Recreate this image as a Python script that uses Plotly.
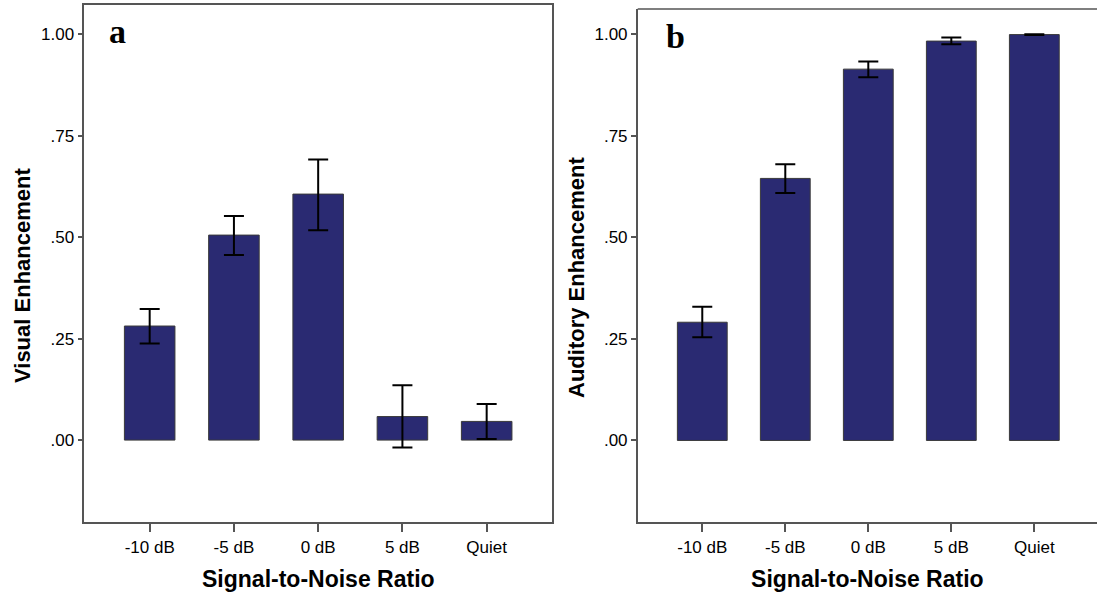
import plotly.graph_objects as go

categories = ["-10 dB", "-5 dB", "0 dB", "5 dB", "Quiet"]

# Panel a: Visual Enhancement (mean, upper and lower CI bounds)
visual_mean = [0.281, 0.505, 0.606, 0.058, 0.046]
visual_hi = [0.323, 0.552, 0.691, 0.135, 0.089]
visual_lo = [0.238, 0.456, 0.517, -0.018, 0.003]

# Panel b: Auditory Enhancement
aud_mean = [0.291, 0.645, 0.914, 0.983, 0.999]
aud_hi = [0.329, 0.680, 0.933, 0.992, 1.000]
aud_lo = [0.254, 0.609, 0.894, 0.975, 0.998]

ytick_vals = [0.0, 0.25, 0.5, 0.75, 1.0]
ytick_text = [".00", ".25", ".50", ".75", "1.00"]

W, H = 1097, 596
BAR = "#2a2a72"
FRAME = "#555555"
SANS = "Liberation Sans, Arial, sans-serif"
SERIF = "Liberation Serif, Times New Roman, serif"


def err(mean, hi, lo):
    return [h - m for h, m in zip(hi, mean)], [m - l for m, l in zip(mean, lo)]


fig = go.Figure()
for i, (mean, hi, lo) in enumerate([(visual_mean, visual_hi, visual_lo),
                                     (aud_mean, aud_hi, aud_lo)]):
    up, dn = err(mean, hi, lo)
    fig.add_trace(go.Bar(
        x=list(range(len(categories))), y=mean,
        xaxis="x" if i == 0 else "x2", yaxis="y" if i == 0 else "y2",
        width=0.6,
        marker=dict(color=BAR, line=dict(color="#3a3a3a", width=1)),
        error_y=dict(type="data", array=up, arrayminus=dn, symmetric=False,
                     color="black", thickness=2, width=10),
        showlegend=False,
    ))


def px(x):
    return x / W


def py(y):
    return (H - y) / H


axis_common = dict(
    showline=True, linecolor=FRAME, linewidth=1.5,
    ticks="outside", tickcolor=FRAME, tickwidth=1.5,
    showgrid=False, zeroline=False, automargin=False,
    tickfont=dict(family=SANS, size=17, color="black"),
)

xa = dict(axis_common, tickvals=list(range(5)), ticktext=categories, ticklen=9,
          title=dict(text="<b>Signal-to-Noise Ratio</b>",
                     font=dict(family=SANS, size=23, color="black"), standoff=15))
ya = dict(axis_common, tickvals=ytick_vals, ticktext=ytick_text, ticklen=5)

TITLE_FONT = dict(family=SANS, size=22, color="black")

fig.update_layout(
    width=W, height=H,
    margin=dict(l=0, r=0, t=0, b=0),
    paper_bgcolor="white", plot_bgcolor="white",
    xaxis=dict(xa, domain=[px(84.3), px(552.3)], range=[-0.776, 4.779],
               mirror=True, anchor="y"),
    yaxis=dict(ya, domain=[py(521.7), py(5.3)], range=[-0.201, 1.071],
               mirror=True, anchor="x"),
    xaxis2=dict(xa, domain=[px(637.7), 1.0], range=[-0.778, 4.755],
                anchor="y2"),
    yaxis2=dict(ya, domain=[py(521.7), py(9.0)], range=[-0.2, 1.062],
                anchor="x2"),
    shapes=[
        dict(type="line", xref="x2 domain", yref="y2 domain", x0=0, x1=1, y0=1, y1=1,
             line=dict(color=FRAME, width=1.5)),
    ],
    annotations=[
        dict(text="<b>Visual Enhancement</b>", xref="paper", yref="paper",
             x=px(22), y=py(276), textangle=-90, xanchor="center", yanchor="middle",
             showarrow=False, font=TITLE_FONT),
        dict(text="<b>Auditory Enhancement</b>", xref="paper", yref="paper",
             x=px(576), y=py(278), textangle=-90, xanchor="center", yanchor="middle",
             showarrow=False, font=TITLE_FONT),
        dict(text="<b>a</b>", xref="paper", yref="paper", x=px(107), y=py(31),
             xanchor="left", yanchor="middle", showarrow=False,
             font=dict(family=SERIF, size=34, color="black")),
        dict(text="<b>b</b>", xref="paper", yref="paper", x=px(664), y=py(36),
             xanchor="left", yanchor="middle", showarrow=False,
             font=dict(family=SERIF, size=34, color="black")),
    ],
)

fig.write_html("out.html")
